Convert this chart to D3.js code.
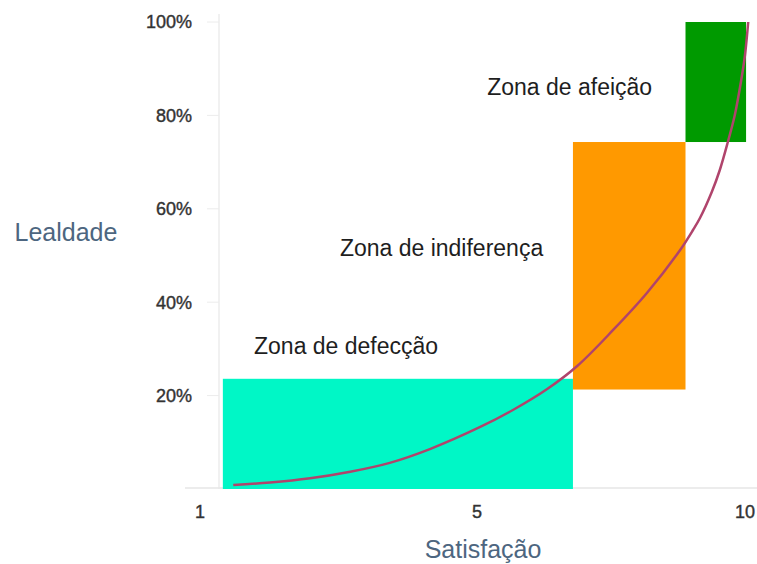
<!DOCTYPE html>
<html><head><meta charset="utf-8">
<script src="https://cdn.jsdelivr.net/npm/d3@7"></script>
<style>body{margin:0;background:#fff}svg{display:block;font-family:"Liberation Sans",Arial,sans-serif}</style>
</head><body><svg id="c" width="757" height="564"></svg>
<script>
// ---- data ----
const xTicks = [1, 5, 10];
const yTicks = [20, 40, 60, 80, 100];
const zoneNames = ["Zona de defecção", "Zona de indiferença", "Zona de afeição"];
const zoneX0 = [1.33, 6.79, 8.89];
const zoneX1 = [6.79, 8.89, 10.02];
const zoneY0 = [0, 21.3, 74.3];
const zoneY1 = [23.6, 74.3, 100];
const zoneColors = ["#00f7c6", "#ff9900", "#009a00"];
const curveX = [1.48, 2.01, 2.59, 3.17, 3.74, 4.32, 5.06, 5.67, 6.31, 6.87, 7.54, 8.17, 8.79, 9.03, 9.16, 9.38, 9.53, 9.68, 9.81, 9.93, 10.0, 10.06];
const curveY = [0.86, 1.39, 2.3, 3.7, 5.6, 8.55, 13.28, 16.92, 21.41, 26.34, 34.05, 41.97, 51.18, 55.46, 58.03, 63.6, 68.31, 74.3, 80.09, 87.58, 92.93, 100];
// label anchors (data units)
const labelX = [1.78, 3.02, 5.19];
const labelY = [30.6, 51.6, 86];

const svg = d3.select("#c");
const x = d3.scaleLinear().domain([1, 5, 10]).range([200, 477, 745]);
const y = d3.scaleLinear().domain([0, 100]).range([489, 22]);

// faint axes
svg.append("line").attr("x1", 219).attr("x2", 219).attr("y1", 14).attr("y2", 489)
  .attr("stroke", "#ececec").attr("stroke-width", 1.5);
svg.append("line").attr("x1", 185).attr("x2", 757).attr("y1", 488).attr("y2", 488)
  .attr("stroke", "#e6e6e6").attr("stroke-width", 1.5);
svg.selectAll(".yt").data(yTicks).enter().append("line")
  .attr("x1", 207).attr("x2", 219).attr("y1", d => y(d)).attr("y2", d => y(d))
  .attr("stroke", "#ececec");

// zones
svg.selectAll(".zone").data(zoneNames).enter().append("rect")
  .attr("x", (d, i) => x(zoneX0[i]))
  .attr("width", (d, i) => x(zoneX1[i]) - x(zoneX0[i]))
  .attr("y", (d, i) => y(zoneY1[i]))
  .attr("height", (d, i) => y(zoneY0[i]) - y(zoneY1[i]))
  .attr("fill", (d, i) => zoneColors[i]);

// curve
const pts = curveX.map((v, i) => [v, curveY[i]]);
svg.append("path").datum(pts)
  .attr("d", d3.line().x(d => x(d[0])).y(d => y(d[1])).curve(d3.curveCatmullRom.alpha(0.5)))
  .attr("fill", "none").attr("stroke", "#b0446c").attr("stroke-width", 2.5);

// tick labels
svg.selectAll(".ytl").data(yTicks).enter().append("text")
  .attr("x", 192).attr("y", d => y(d)).attr("dy", "0.35em")
  .attr("text-anchor", "end").attr("font-size", 18).attr("fill", "#333")
  .attr("stroke", "#333").attr("stroke-width", 0.4)
  .text(d => d + "%");
svg.selectAll(".xtl").data(xTicks).enter().append("text")
  .attr("x", d => x(d)).attr("y", 512).attr("dy", "0.35em")
  .attr("text-anchor", "middle").attr("font-size", 18).attr("fill", "#333")
  .attr("stroke", "#333").attr("stroke-width", 0.4)
  .text(d => d);

// zone labels
svg.selectAll(".zl").data(zoneNames).enter().append("text")
  .attr("x", (d, i) => x(labelX[i])).attr("y", (d, i) => y(labelY[i])).attr("dy", "0.35em")
  .attr("font-size", 23).attr("fill", "#1e1e1e")
  .text(d => d);

// axis titles
svg.append("text").attr("x", 66).attr("y", 232).attr("dy", "0.35em")
  .attr("text-anchor", "middle").attr("font-size", 25).attr("fill", "#4d6680").text("Lealdade");
svg.append("text").attr("x", 483).attr("y", 549).attr("dy", "0.35em")
  .attr("text-anchor", "middle").attr("font-size", 25).attr("fill", "#4d6680").text("Satisfação");
</script></body></html>
